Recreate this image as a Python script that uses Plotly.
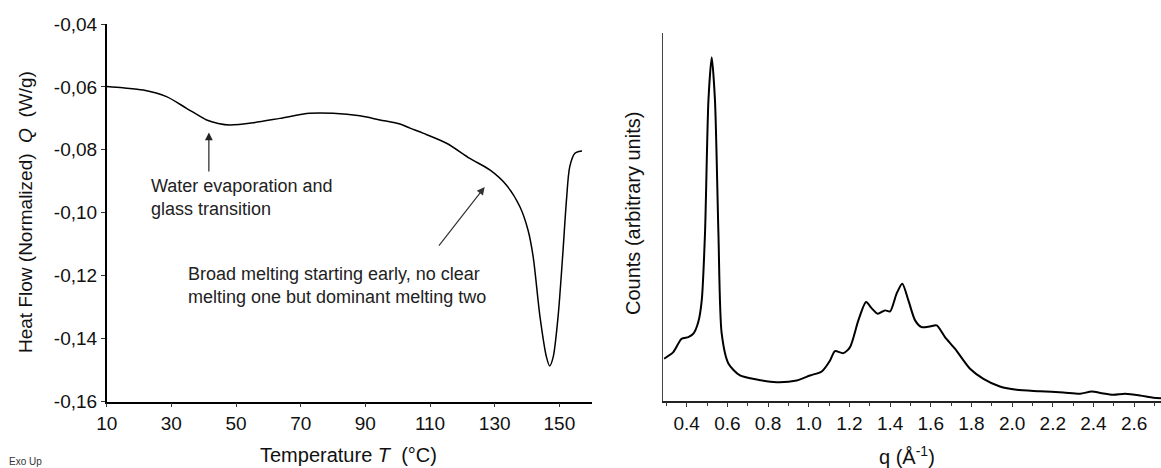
import plotly.graph_objects as go

# ---- Left panel: DSC curve ----
temperature = [10, 15, 21.3, 28.5, 34.7, 40.9, 44.5, 48.1, 55.3, 63.6, 72.8, 80, 88.3, 94.5,
               100.7, 103.8, 107.8, 115.1, 122.3, 128.5, 133.6, 137.8, 140.3, 141.9, 144, 146,
               147, 148.1, 149.6, 151, 152.2, 153.2, 154.8, 156, 157]
heat_flow = [-0.0599, -0.0603, -0.0610, -0.0631, -0.0668, -0.0705, -0.0716, -0.0721, -0.0714,
             -0.0700, -0.0684, -0.0684, -0.0692, -0.0705, -0.0718, -0.0731, -0.0747, -0.0779,
             -0.0827, -0.0864, -0.0912, -0.0981, -0.1055, -0.1140, -0.1330, -0.1458, -0.1487,
             -0.1458, -0.1330, -0.1140, -0.0959, -0.0854, -0.0811, -0.0805, -0.0804]
t_ticks = [10, 30, 50, 70, 90, 110, 130, 150]
q_tickvals = [-0.04, -0.06, -0.08, -0.10, -0.12, -0.14, -0.16]
q_ticktext = ["-0,04", "-0,06", "-0,08", "-0,10", "-0,12", "-0,14", "-0,16"]

# ---- Right panel: scattering curve ----
q_values = [0.289, 0.334, 0.375, 0.408, 0.433, 0.457, 0.474, 0.490, 0.507, 0.523, 0.539, 0.556,
            0.572, 0.605, 0.662, 0.744, 0.842, 0.941, 1.006, 1.064, 1.105, 1.129, 1.170, 1.203,
            1.244, 1.282, 1.31, 1.339, 1.375, 1.4, 1.432, 1.46, 1.49, 1.523, 1.555, 1.596, 1.629,
            1.67, 1.719, 1.793, 1.859, 1.94, 2.022, 2.137, 2.252, 2.334, 2.391, 2.44, 2.498,
            2.555, 2.629, 2.694, 2.732]
counts = [41.7, 48.3, 61.7, 63.3, 66.7, 78.3, 100, 167, 300, 342.7, 300, 167, 67, 37, 25, 21,
          18.3, 20, 25, 29, 40, 49.3, 47.3, 53.3, 80, 98.3, 92, 86.7, 90, 89, 106.7, 116.7, 100,
          80, 73.3, 74, 75, 63.3, 51.7, 31.7, 21.7, 14, 10.7, 9.3, 8, 6.7, 9, 7.3, 5.7, 6.7, 5,
          2.7, 2.3]
qx_ticks = [0.4, 0.6, 0.8, 1.0, 1.2, 1.4, 1.6, 1.8, 2.0, 2.2, 2.4, 2.6]

W, H = 1161, 468
FONT = "Liberation Sans, Arial, sans-serif"

def px(x):
    return x / W

def py(y):
    return 1 - y / H

fig = go.Figure()
fig.add_trace(go.Scatter(x=temperature, y=heat_flow, mode="lines",
                         line=dict(color="black", width=1.5, shape="spline", smoothing=0.8),
                         xaxis="x", yaxis="y", showlegend=False, hoverinfo="skip"))
fig.add_trace(go.Scatter(x=q_values, y=counts, mode="lines",
                         line=dict(color="black", width=2, shape="spline", smoothing=0.7),
                         xaxis="x2", yaxis="y2", showlegend=False, hoverinfo="skip"))

fig.update_layout(
    width=W, height=H, margin=dict(l=0, r=0, t=0, b=0, pad=0, autoexpand=False),
    paper_bgcolor="white", plot_bgcolor="white",
    font=dict(family=FONT, color="#111"),
    xaxis=dict(domain=[px(106.7), px(591.7)], range=[10, 160], tickvals=t_ticks,
               showgrid=False, zeroline=False, showline=True, linecolor="black", linewidth=1.5,
               ticks="outside", ticklen=4, tickcolor="#333", tickfont=dict(size=19, family=FONT),
               anchor="y", automargin=False),
    yaxis=dict(domain=[py(401.5), py(24)], range=[-0.16, -0.04], tickvals=q_tickvals,
               ticktext=q_ticktext, showgrid=False, zeroline=False, showline=True,
               linecolor="black", linewidth=1.5, ticks="outside", ticklen=4, tickcolor="#333",
               tickfont=dict(size=19, family=FONT), anchor="x", automargin=False),
    xaxis2=dict(domain=[px(663.3), 1.0], range=[0.285, 2.732], tickvals=qx_ticks,
                ticktext=[f"{v:.1f}" for v in qx_ticks],
                showgrid=False, zeroline=False, showline=True, linecolor="#222", linewidth=1.5,
                ticks="outside", ticklen=5, tickcolor="#333", tickwidth=1.2,
                minor=dict(dtick=0.1, tick0=0.3, ticks="outside", ticklen=4, tickcolor="#333"),
                tickfont=dict(size=19, family=FONT), anchor="y2", automargin=False),
    yaxis2=dict(domain=[py(400.5), py(33)], range=[0, 367], showticklabels=False,
                showgrid=False, zeroline=False, showline=True, linecolor="#444", linewidth=1,
                ticks="", anchor="x2", automargin=False),
)

ann = []
# axis titles
ann.append(dict(x=px(26), y=py(212), xref="paper", yref="paper", textangle=-90,
                xanchor="center", yanchor="middle",
                text="Heat Flow (Normalized)  <i>Q</i>  (W/g)", showarrow=False,
                font=dict(size=19, family=FONT, color="#111")))
ann.append(dict(x=px(348), y=py(455), xref="paper", yref="paper",
                xanchor="center", yanchor="middle",
                text="Temperature <i>T</i>  (°C)", showarrow=False,
                font=dict(size=20, family=FONT, color="#111")))
ann.append(dict(x=px(633), y=py(214), xref="paper", yref="paper", textangle=-90,
                xanchor="center", yanchor="middle",
                text="Counts (arbitrary units)", showarrow=False,
                font=dict(size=20, family=FONT, color="#111")))
ann.append(dict(x=px(907), y=py(455), xref="paper", yref="paper",
                xanchor="center", yanchor="middle",
                text="q (Å<sup>-1</sup>)", showarrow=False,
                font=dict(size=20, family=FONT, color="#111")))
ann.append(dict(x=px(7), y=py(461), xref="paper", yref="paper", xanchor="left",
                yanchor="middle",
                text="Exo Up", showarrow=False, font=dict(size=10, family=FONT, color="#333")))
# text notes
ann.append(dict(x=px(149), y=py(174), xref="paper", yref="paper", xanchor="left", yanchor="top",
                align="left", text="Water evaporation and<br>glass transition", showarrow=False,
                font=dict(size=18, family=FONT, color="#222")))
ann.append(dict(x=px(186), y=py(262), xref="paper", yref="paper", xanchor="left", yanchor="top",
                align="left",
                text="Broad melting starting early, no clear<br>melting one but dominant melting two",
                showarrow=False, font=dict(size=18, family=FONT, color="#222")))
# arrows
ann.append(dict(x=41.6, y=-0.0745, ax=41.6, ay=-0.0874, xref="x", yref="y", axref="x", ayref="y",
                text="", showarrow=True, arrowhead=2, arrowsize=1.3, arrowwidth=1.2,
                arrowcolor="#222"))
ann.append(dict(x=126.9, y=-0.0918, ax=112.4, ay=-0.1109, xref="x", yref="y", axref="x",
                ayref="y", text="", showarrow=True, arrowhead=2, arrowsize=1.3, arrowwidth=1.2,
                arrowcolor="#333"))
fig.update_layout(annotations=ann)

fig.write_html("out.html")
